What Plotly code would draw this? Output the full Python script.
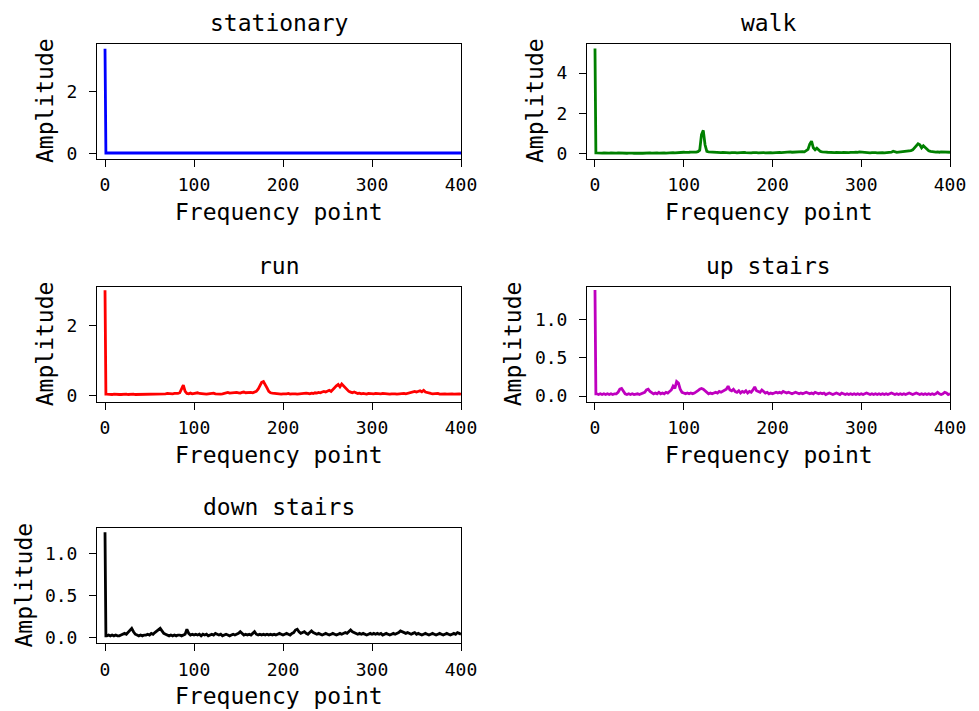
import plotly.graph_objects as go

# ---------------- data ----------------
FREQ = [0, 1] + list(range(2, 401, 2))
STAT_FREQ = [0, 1] + list(range(20, 401, 20))

stationary = [3.41, 0.01,
              0.01, 0.01, 0.01, 0.01, 0.01, 0.01, 0.01, 0.01, 0.01, 0.01,
              0.01, 0.01, 0.01, 0.01, 0.01, 0.01, 0.01, 0.01, 0.01, 0.01]

walk = [5.21, 0.05,
    0.05, 0.04, 0.05, 0.04, 0.05, 0.04, 0.03, 0.04, 0.05, 0.04,
    0.03, 0.04, 0.05, 0.04, 0.03, 0.04, 0.04, 0.03, 0.04, 0.05,
    0.04, 0.03, 0.04, 0.05, 0.04, 0.04, 0.03, 0.04, 0.05, 0.04,
    0.05, 0.04, 0.05, 0.06, 0.05, 0.04, 0.05, 0.06, 0.05, 0.04,
    0.05, 0.06, 0.05, 0.06, 0.05, 0.06, 0.07, 0.06, 0.07, 0.08,
    0.07, 0.06, 0.08, 0.09, 0.08, 0.10, 0.09, 0.11, 0.18, 0.95,
    1.16, 0.45, 0.12, 0.10, 0.09, 0.11, 0.08, 0.07, 0.08, 0.07,
    0.06, 0.07, 0.06, 0.07, 0.06, 0.05, 0.06, 0.07, 0.06, 0.05,
    0.06, 0.05, 0.06, 0.07, 0.06, 0.05, 0.06, 0.05, 0.06, 0.07,
    0.06, 0.05, 0.06, 0.05, 0.06, 0.05, 0.06, 0.07, 0.06, 0.05,
    0.06, 0.05, 0.06, 0.07, 0.06, 0.07, 0.08, 0.07, 0.09, 0.10,
    0.08, 0.09, 0.10, 0.11, 0.09, 0.12, 0.11, 0.10, 0.14, 0.22,
    0.48, 0.63, 0.30, 0.20, 0.28, 0.18, 0.12, 0.10, 0.11, 0.09,
    0.08, 0.07, 0.08, 0.07, 0.06, 0.07, 0.06, 0.05, 0.06, 0.07,
    0.06, 0.05, 0.06, 0.07, 0.06, 0.07, 0.08, 0.07, 0.10, 0.09,
    0.07, 0.06, 0.07, 0.06, 0.05, 0.06, 0.07, 0.06, 0.05, 0.06,
    0.07, 0.06, 0.05, 0.06, 0.07, 0.06, 0.08, 0.13, 0.08, 0.07,
    0.08, 0.09, 0.10, 0.12, 0.13, 0.12, 0.14, 0.16, 0.20, 0.32,
    0.42, 0.50, 0.45, 0.30, 0.40, 0.30, 0.20, 0.15, 0.12, 0.10,
    0.11, 0.09, 0.10, 0.08, 0.10, 0.09, 0.08, 0.07, 0.09, 0.08]

run = [3.02, 0.04,
    0.04, 0.03, 0.04, 0.03, 0.04, 0.03, 0.04, 0.03, 0.03, 0.04,
    0.03, 0.04, 0.03, 0.04, 0.03, 0.04, 0.03, 0.03, 0.04, 0.03,
    0.04, 0.03, 0.04, 0.05, 0.04, 0.05, 0.04, 0.05, 0.04, 0.05,
    0.04, 0.05, 0.04, 0.05, 0.06, 0.05, 0.04, 0.05, 0.06, 0.05,
    0.06, 0.08, 0.20, 0.30, 0.12, 0.06, 0.05, 0.07, 0.05, 0.06,
    0.05, 0.08, 0.06, 0.05, 0.04, 0.05, 0.04, 0.05, 0.06, 0.05,
    0.07, 0.05, 0.04, 0.05, 0.04, 0.05, 0.06, 0.08, 0.09, 0.07,
    0.08, 0.07, 0.08, 0.09, 0.08, 0.07, 0.09, 0.10, 0.08, 0.09,
    0.10, 0.09, 0.08, 0.10, 0.12, 0.18, 0.30, 0.38, 0.40, 0.32,
    0.22, 0.12, 0.08, 0.07, 0.06, 0.05, 0.06, 0.05, 0.04, 0.05,
    0.04, 0.05, 0.06, 0.04, 0.05, 0.06, 0.05, 0.04, 0.05, 0.06,
    0.05, 0.06, 0.07, 0.06, 0.05, 0.07, 0.06, 0.08, 0.07, 0.09,
    0.08, 0.10, 0.12, 0.10, 0.13, 0.15, 0.12, 0.18, 0.22, 0.28,
    0.32, 0.25, 0.33, 0.28, 0.22, 0.18, 0.12, 0.10, 0.08, 0.10,
    0.07, 0.06, 0.07, 0.05, 0.06, 0.05, 0.04, 0.06, 0.05, 0.04,
    0.05, 0.06, 0.05, 0.04, 0.05, 0.06, 0.05, 0.04, 0.05, 0.04,
    0.05, 0.06, 0.05, 0.04, 0.05, 0.04, 0.05, 0.06, 0.05, 0.06,
    0.07, 0.08, 0.10, 0.12, 0.10, 0.13, 0.14, 0.11, 0.15, 0.10,
    0.08, 0.07, 0.06, 0.05, 0.06, 0.05, 0.06, 0.04, 0.05, 0.04,
    0.05, 0.04, 0.05, 0.04, 0.05, 0.04, 0.05, 0.04, 0.05, 0.04]

up_stairs = [1.38, 0.03,
    0.03, 0.02, 0.03, 0.02, 0.03, 0.02, 0.03, 0.02, 0.03, 0.02,
    0.03, 0.03, 0.05, 0.09, 0.10, 0.06, 0.03, 0.02, 0.03, 0.02,
    0.03, 0.02, 0.03, 0.03, 0.02, 0.03, 0.03, 0.05, 0.08, 0.09,
    0.06, 0.04, 0.03, 0.04, 0.03, 0.05, 0.03, 0.04, 0.03, 0.05,
    0.04, 0.06, 0.08, 0.13, 0.10, 0.19, 0.17, 0.09, 0.05, 0.04,
    0.03, 0.04, 0.03, 0.04, 0.03, 0.04, 0.05, 0.07, 0.09, 0.10,
    0.09, 0.07, 0.05, 0.03, 0.04, 0.03, 0.04, 0.05, 0.04, 0.06,
    0.05, 0.06, 0.07, 0.09, 0.13, 0.08, 0.07, 0.09, 0.06, 0.05,
    0.07, 0.04, 0.06, 0.05, 0.07, 0.04, 0.06, 0.05, 0.08, 0.12,
    0.07, 0.06, 0.05, 0.08, 0.06, 0.04, 0.05, 0.03, 0.04, 0.03,
    0.04, 0.05, 0.04, 0.05, 0.04, 0.06, 0.05, 0.04, 0.05, 0.04,
    0.03, 0.04, 0.05, 0.04, 0.03, 0.04, 0.03, 0.04, 0.05, 0.04,
    0.03, 0.04, 0.03, 0.05, 0.04, 0.03, 0.04, 0.03, 0.04, 0.02,
    0.03, 0.04, 0.03, 0.02, 0.03, 0.04, 0.03, 0.02, 0.04, 0.03,
    0.02, 0.03, 0.02, 0.03, 0.02, 0.03, 0.02, 0.03, 0.02, 0.03,
    0.02, 0.03, 0.04, 0.03, 0.02, 0.03, 0.02, 0.03, 0.02, 0.03,
    0.02, 0.03, 0.02, 0.03, 0.02, 0.03, 0.04, 0.03, 0.02, 0.03,
    0.02, 0.03, 0.02, 0.03, 0.02, 0.03, 0.04, 0.03, 0.02, 0.03,
    0.04, 0.03, 0.02, 0.03, 0.02, 0.03, 0.02, 0.03, 0.02, 0.03,
    0.02, 0.03, 0.05, 0.03, 0.02, 0.03, 0.05, 0.04, 0.02, 0.03]

down_stairs = [1.26, 0.02,
    0.02, 0.03, 0.02, 0.03, 0.02, 0.03, 0.02, 0.02, 0.03, 0.04,
    0.05, 0.04, 0.06, 0.08, 0.11, 0.07, 0.04, 0.03, 0.02, 0.03,
    0.02, 0.03, 0.03, 0.04, 0.03, 0.05, 0.04, 0.06, 0.08, 0.10,
    0.11, 0.08, 0.05, 0.04, 0.03, 0.02, 0.03, 0.02, 0.03, 0.02,
    0.03, 0.03, 0.02, 0.03, 0.04, 0.10, 0.05, 0.03, 0.04, 0.03,
    0.04, 0.03, 0.04, 0.02, 0.04, 0.03, 0.04, 0.02, 0.03, 0.04,
    0.03, 0.05, 0.04, 0.03, 0.04, 0.02, 0.03, 0.04, 0.03, 0.02,
    0.03, 0.04, 0.03, 0.04, 0.05, 0.07, 0.05, 0.03, 0.04, 0.03,
    0.04, 0.03, 0.05, 0.07, 0.04, 0.03, 0.04, 0.03, 0.04, 0.03,
    0.04, 0.03, 0.04, 0.03, 0.04, 0.03, 0.04, 0.05, 0.04, 0.03,
    0.04, 0.05, 0.04, 0.03, 0.05, 0.06, 0.09, 0.10, 0.07, 0.05,
    0.06, 0.07, 0.05, 0.04, 0.06, 0.08, 0.06, 0.05, 0.04, 0.05,
    0.04, 0.03, 0.04, 0.05, 0.04, 0.03, 0.04, 0.05, 0.04, 0.03,
    0.04, 0.05, 0.04, 0.05, 0.06, 0.05, 0.07, 0.09, 0.07, 0.06,
    0.05, 0.04, 0.05, 0.04, 0.05, 0.04, 0.03, 0.04, 0.05, 0.04,
    0.05, 0.04, 0.05, 0.04, 0.05, 0.03, 0.04, 0.05, 0.04, 0.03,
    0.04, 0.05, 0.04, 0.05, 0.06, 0.08, 0.07, 0.06, 0.05, 0.06,
    0.05, 0.04, 0.05, 0.06, 0.04, 0.05, 0.04, 0.03, 0.04, 0.05,
    0.04, 0.03, 0.04, 0.05, 0.04, 0.03, 0.04, 0.05, 0.04, 0.03,
    0.04, 0.05, 0.04, 0.03, 0.04, 0.05, 0.04, 0.06, 0.05, 0.04]

TITLES = ["stationary", "walk", "run", "up stairs", "down stairs"]
COLORS = ["#0000ff", "#008000", "#ff0000", "#bf00bf", "#000000"]
SERIES = [stationary, walk, run, up_stairs, down_stairs]
XS = [STAT_FREQ, FREQ, FREQ, FREQ, FREQ]
X_TICKS = [0, 100, 200, 300, 400]
Y_TICKS = [[0, 2], [0, 2, 4], [0, 2], [0.0, 0.5, 1.0], [0.0, 0.5, 1.0]]
Y_TICKTEXT = [["0", "2"], ["0", "2", "4"], ["0", "2"],
              ["0.0", "0.5", "1.0"], ["0.0", "0.5", "1.0"]]
Y_RANGES = [[-0.17, 3.58], [-0.23, 5.46], [-0.17, 3.11],
            [-0.07, 1.42], [-0.065, 1.31]]
X_RANGE = [-9, 400]

for s, xx in zip(SERIES, XS):
    assert len(s) == len(xx), (len(s), len(xx))

# ---------------- layout ----------------
W, H = 979, 711
COL_X = [(97, 461), (587, 950)]
ROW_Y = [(43.5, 158.5), (287, 401.5), (528, 643)]
POS = [(0, 0), (0, 1), (1, 0), (1, 1), (2, 0)]
YLAB_OFF = [52, 52, 52, 74, 74]

FONT = "DejaVu Sans Mono"
fig = go.Figure()
layout = dict(width=W, height=H, autosize=False, template="none",
              margin=dict(l=0, r=0, t=0, b=0, pad=0),
              paper_bgcolor="white", plot_bgcolor="white", showlegend=False,
              font=dict(family=FONT, color="black"))
annotations = []
for i, (t, c, s, xx) in enumerate(zip(TITLES, COLORS, SERIES, XS)):
    n = i + 1
    sfx = "" if n == 1 else str(n)
    r, col = POS[i]
    fig.add_trace(go.Scatter(x=xx, y=s, mode="lines",
                             line=dict(color=c, width=2.8),
                             xaxis=f"x{sfx}", yaxis=f"y{sfx}", hoverinfo="skip"))
    x0, x1 = COL_X[col]
    y0, y1 = ROW_Y[r]
    common = dict(showline=True, linecolor="black", linewidth=1, mirror=True,
                  ticks="outside", ticklen=7, tickwidth=1, tickcolor="black",
                  showgrid=False, zeroline=False, automargin=False,
                  tickfont=dict(family=FONT, size=18, color="black"))
    layout[f"xaxis{sfx}"] = dict(common, domain=[x0 / W, x1 / W], anchor=f"y{sfx}",
                                 range=X_RANGE, tickvals=X_TICKS,
                                 ticklabelstandoff=3)
    layout[f"yaxis{sfx}"] = dict(common, domain=[1 - y1 / H, 1 - y0 / H],
                                 anchor=f"x{sfx}", range=Y_RANGES[i],
                                 tickvals=Y_TICKS[i], ticktext=Y_TICKTEXT[i],
                                 ticklabelstandoff=8)
    xr, yr = f"x{sfx} domain", f"y{sfx} domain"
    annotations.append(dict(text=t, xref=xr, yref=yr,
                            x=0.5, y=1, xanchor="center", yanchor="bottom",
                            yshift=6, showarrow=False,
                            font=dict(family=FONT, size=23, color="black")))
    annotations.append(dict(text="Frequency point", xref=xr, yref=yr,
                            x=0.5, y=0, xanchor="center",
                            yanchor="top", yshift=-38, showarrow=False,
                            font=dict(family=FONT, size=23, color="black")))
    annotations.append(dict(text="Amplitude", xref=xr, yref=yr,
                            x=0, y=0.5, xanchor="center",
                            yanchor="middle", xshift=-YLAB_OFF[i],
                            textangle=-90, showarrow=False,
                            font=dict(family=FONT, size=23, color="black")))
layout["annotations"] = annotations
fig.update_layout(**layout)
fig.write_html("out.html", config={"responsive": False},
               post_script="document.body.style.margin='0';"
                           "document.body.style.overflow='hidden';")
